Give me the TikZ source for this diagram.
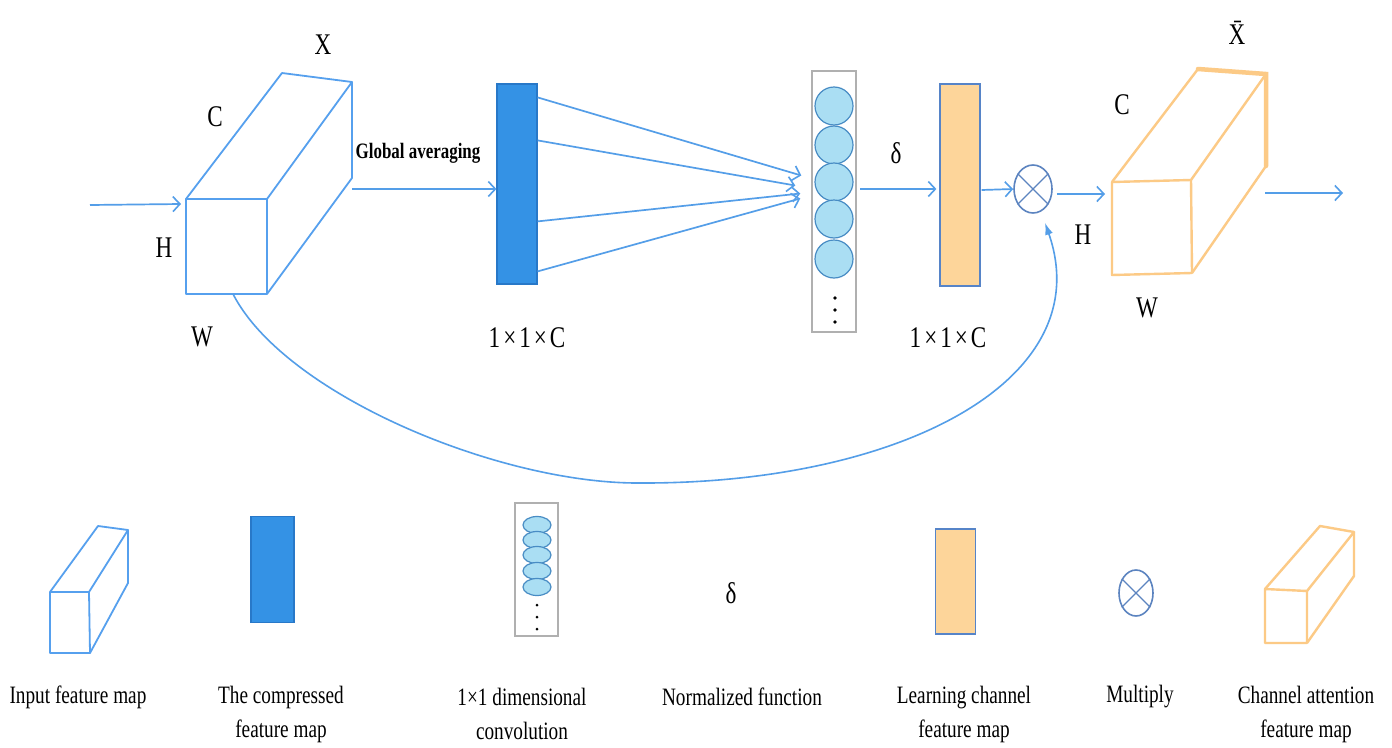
\documentclass[tikz,border=0pt]{standalone}
\usepackage{fontspec}
\setmainfont{Liberation Serif}[FakeStretch=0.77]
\usetikzlibrary{arrows.meta,calc,shapes.geometric}

\definecolor{wire}{RGB}{84,158,232}
\definecolor{cubeblue}{RGB}{86,160,238}
\definecolor{barblue}{RGB}{52,146,229}
\definecolor{baredge}{RGB}{40,120,200}
\definecolor{cellfill}{RGB}{170,222,243}
\definecolor{celledge}{RGB}{72,140,196}
\definecolor{boxgray}{RGB}{176,176,176}
\definecolor{peach}{RGB}{253,213,154}
\definecolor{peachedge}{RGB}{86,132,200}
\definecolor{cubeorange}{RGB}{252,202,134}
\definecolor{multblue}{RGB}{92,132,192}

\tikzset{
  flow/.style={draw=wire, line width=1.7pt,
    -{Straight Barb[length=7pt,width=15pt,line width=1.6pt]}},
  feedback/.style={draw=wire, line width=1.6pt, -{Latex[length=12pt,width=8pt]}},
  bluecube/.style={draw=cubeblue, line width=1.8pt, line join=round},
  orangecube/.style={draw=cubeorange, line width=2.4pt, line join=round},
  vecbar/.style={draw=baredge, fill=barblue, line width=1.2pt, inner sep=0pt},
  attbar/.style={draw=peachedge, fill=peach, line width=1.2pt, inner sep=0pt},
  cell/.style={circle, draw=celledge, fill=cellfill, line width=1.2pt, inner sep=0pt},
  cellbox/.style={draw=boxgray, line width=1.5pt, inner sep=0pt},
  mult/.style={ellipse, draw=multblue, line width=1.6pt, inner sep=0pt},
  dimtxt/.style={font=\fontsize{30}{34}\selectfont, inner sep=0pt},
  legtxt/.style={font=\fontsize{25}{34}\selectfont, align=center, inner sep=0pt},
}

\begin{document}
\begin{tikzpicture}[x=1pt,y=-1pt]
\useasboundingbox[fill=white] (0,0) rectangle (1392,747);

% ---------------- input feature map X ----------------
\coordinate (xa) at (186,199); \coordinate (xb) at (267,199);
\coordinate (xc) at (267,294); \coordinate (xd) at (186,294);
\coordinate (xe) at (282,73);  \coordinate (xf) at (352,82);
\coordinate (xg) at (352,178);
\draw[bluecube] (xa) -- (xb) -- (xc) -- (xd) -- cycle;
\draw[bluecube] (xa) -- (xe) -- (xf) -- (xb);
\draw[bluecube] (xf) -- (xg) -- (xc);

\node[dimtxt] (lX) at (323,45) {X};
\node[dimtxt] (lC) at (215,117) {C};
\node[dimtxt] (lH) at (164,248) {H};
\node[dimtxt] (lW) at (202,337) {W};

\coordinate (inp) at (90,205);
\coordinate (inpEnd) at (181,204);
\draw[flow] (inp) -- (inpEnd);

% ---------------- compressed vector ----------------
\node[vecbar, minimum width=40pt, minimum height=200pt] (cbar) at (517,184) {};
\node[dimtxt] (lc1) at (527,338) {1\kern3pt×\kern3pt1\kern3pt×\kern3pt C};

\coordinate (gaS) at (352,189);
\draw[flow] (gaS) -- (gaS -| cbar.west);
\node[font=\fontsize{22}{26}\selectfont\bfseries, inner sep=0pt] (lga) at (418,153) {Global averaging};

% ---------------- 1x1 convolution cells ----------------
\node[cellbox, minimum width=44pt, minimum height=261pt] (cbox) at (834,201.5) {};
\foreach \i/\y in {1/106,2/145,3/182,4/219,5/259}
  \node[cell, minimum size=38pt] (cell\i) at (834,\y) {};
\foreach \y in {298,310,322}
  \fill (835,\y) circle (1.8pt);

\draw[flow] ($(cbar.north east)+(0,14)$)  -- ($(cbox.west)+(-10,-26)$);
\draw[flow] ($(cbar.north east)+(0,57)$)  -- ($(cbox.west)+(-16,-16)$);
\draw[flow] ($(cbar.north east)+(0,138)$) -- ($(cbox.west)+(-11,-8)$);
\draw[flow] ($(cbar.north east)+(0,188)$) -- ($(cbox.west)+(-11,-3)$);

% ---------------- normalisation and attention vector ----------------
\node[attbar, minimum width=40pt, minimum height=202pt] (obar) at (960,185) {};
\node[dimtxt] (ldelta) at (896,153) {δ};
\node[dimtxt] (lc2) at (948,338) {1\kern3pt×\kern3pt1\kern3pt×\kern3pt C};

\coordinate (nrm) at (860,189);
\draw[flow] (nrm) -- ($(nrm -| obar.west)+(-3,0)$);

% ---------------- multiplication ----------------
\node[mult, minimum width=38pt, minimum height=48pt] (mul) at (1033,189) {};
\draw[draw=multblue, line width=1.2pt] (mul.45) -- (mul.-135) (mul.135) -- (mul.-45);
\draw[flow] ($(obar.east)+(1,5)$) -- (mul.west);

% ---------------- output feature map X bar ----------------
\coordinate (ya) at (1112,182); \coordinate (yb) at (1191,180);
\coordinate (yc) at (1192,273); \coordinate (yd) at (1112,275);
\coordinate (ye) at (1198,69);  \coordinate (yf) at (1266,74);
\coordinate (yg) at (1266,166);
\draw[orangecube] (ya) -- (yb) -- (yc) -- (yd) -- cycle;
\draw[orangecube] (ya) -- (ye);
\draw[orangecube] (yb) -- (yf);
\draw[orangecube] (yc) -- (yg);
\draw[draw=cubeorange, line width=4.5pt, line cap=round] (ye) -- (yf) -- (yg);

\node[dimtxt] (lXb) at (1237,33) {\={X}};
\node[dimtxt] (lC2) at (1122,105) {C};
\node[dimtxt] (lH2) at (1083,235) {H};
\node[dimtxt] (lW2) at (1147,308) {W};

\coordinate (yIn) at (1105,194);
\draw[flow] ($(mul.east)+(4,5)$) -- (yIn);
\coordinate (yOut) at (1265,193);
\coordinate (yEnd) at (1343,193);
\draw[flow] (yOut) -- (yEnd);

% ---------------- skip connection ----------------
\coordinate (skip) at (233,294);
\coordinate (skipLow) at (640,483);
\draw[feedback] (skip) .. controls (285,395) and (500,484) .. (skipLow)
  .. controls (900,484) and (1100,380) .. ($(mul.south)+(12,9)$);

% ---------------- legend ----------------
\coordinate (la) at (50,592);  \coordinate (lb) at (89,592);
\coordinate (lc) at (90,653);  \coordinate (ld) at (50,653);
\coordinate (le) at (98,526);  \coordinate (lf) at (128,530);
\coordinate (lg) at (128,583);
\draw[bluecube] (la) -- (lb) -- (lc) -- (ld) -- cycle;
\draw[bluecube] (la) -- (le) -- (lf) -- (lb);
\draw[bluecube] (lf) -- (lg) -- (lc);

\node[vecbar, minimum width=43pt, minimum height=106pt] (lgbar) at (272.5,569.5) {};

\node[cellbox, minimum width=43pt, minimum height=133pt] (lgbox) at (536.5,569.5) {};
\foreach \y in {525,540,555,571,587}
  \node[ellipse, draw=celledge, fill=cellfill, line width=1.2pt, inner sep=0pt,
        minimum width=28pt, minimum height=17pt] at (537,\y) {};
\foreach \y in {605,617,629}
  \fill (537,\y) circle (1.5pt);

\node[dimtxt] (lgdelta) at (731,593) {δ};

\node[attbar, minimum width=40pt, minimum height=105pt] (lgobar) at (955.5,581.5) {};

\node[mult, minimum width=34pt, minimum height=46pt] (lgmul) at (1136,593) {};
\draw[draw=multblue, line width=1.2pt] (lgmul.45) -- (lgmul.-135) (lgmul.135) -- (lgmul.-45);

\coordinate (ma) at (1265,589); \coordinate (mb) at (1307,591);
\coordinate (mc) at (1307,643); \coordinate (md) at (1265,643);
\coordinate (me) at (1320,526); \coordinate (mf) at (1354,532);
\coordinate (mg) at (1354,576);
\draw[orangecube] (ma) -- (mb) -- (mc) -- (md) -- cycle;
\draw[orangecube] (ma) -- (me) -- (mf) -- (mb);
\draw[orangecube] (mf) -- (mg) -- (mc);

\node[legtxt] (t1) at (78,697) {Input feature map};
\node[legtxt] (t2) at (281,714) {The compressed\\feature map};
\node[legtxt] (t3) at (522,714) {1×1 dimensional\\convolution};
\node[legtxt] (t4) at (742,697) {Normalized function};
\node[legtxt] (t5) at (964,714) {Learning channel\\feature map};
\node[legtxt] (t6) at (1140,697) {Multiply};
\node[legtxt] (t7) at (1306,714) {Channel attention\\feature map};
\end{tikzpicture}
\end{document}
